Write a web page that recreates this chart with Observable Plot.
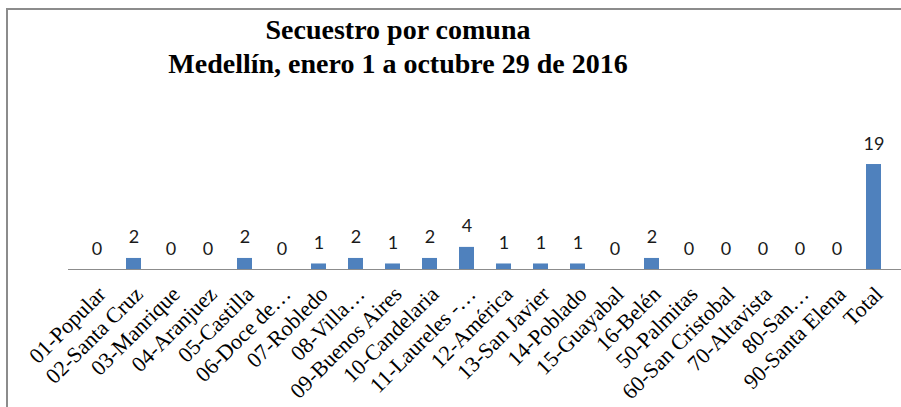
<!DOCTYPE html>
<html>
<head>
<meta charset="utf-8">
<script src="https://cdn.jsdelivr.net/npm/d3@7"></script>
<script src="https://cdn.jsdelivr.net/npm/@observablehq/plot@0.6"></script>
<style>
  html, body { margin: 0; padding: 0; background: #fff; }
  #wrap { position: relative; width: 901px; height: 407px; overflow: hidden; background: #fff; }
  #frame { position: absolute; left: 6px; top: 8px; width: 920px; height: 420px; border-left: 2px solid #8c8c8c; border-top: 2px solid #8c8c8c; box-sizing: border-box; }
  #title { position: absolute; left: 0; top: 13px; width: 796px; text-align: center;
    font-family: "Liberation Serif", "Times New Roman", serif; font-weight: bold; font-size: 28px; line-height: 34px; color: #000; }
  #chart { position: absolute; left: 0; top: 0; }
</style>
</head>
<body>
<div id="wrap">
  <div id="frame"></div>
  <div id="title">Secuestro por comuna<br>Medellín, enero 1 a octubre 29 de 2016</div>
  <div id="chart"></div>
</div>
<script>
const comunas = ["01-Popular","02-Santa Cruz","03-Manrique","04-Aranjuez","05-Castilla","06-Doce de…","07-Robledo","08-Villa…","09-Buenos Aires","10-Candelaria","11-Laureles -…","12-América","13-San Javier","14-Poblado","15-Guayabal","16-Belén","50-Palmitas","60-San Cristobal","70-Altavista","80-San…","90-Santa Elena","Total"];
const secuestros = [0,2,0,0,2,0,1,2,1,2,4,1,1,1,0,2,0,0,0,0,0,19];

const data = comunas.map((c, i) => ({comuna: c, valor: secuestros[i]}));

const chart = Plot.plot({
  width: 901,
  height: 407,
  marginLeft: 68,
  marginRight: 0,
  marginTop: 0,
  marginBottom: 0,
  x: {domain: comunas, range: [68, 901], paddingInner: 0.6, paddingOuter: 0.3, align: 0.5, axis: null},
  y: {domain: [0, 20], range: [269, 158.5], axis: null},
  style: {background: "transparent", overflow: "visible"},
  marks: [
    Plot.barY(data, {x: "comuna", y: "valor", fill: "#4F81BD"}),
    Plot.ruleY([0], {stroke: "#8c8c8c", strokeWidth: 1.2}),
    Plot.text(data, {x: "comuna", y: "valor", text: d => String(d.valor), lineAnchor: "bottom", dy: -15,
      fontFamily: "Lato, 'Open Sans', sans-serif", fontSize: 18, fill: "#1a1a1a"}),
    Plot.text(comunas, {x: d => d, y: () => 0, text: d => d, rotate: -45, textAnchor: "end", lineAnchor: "top",
      dx: -1, dy: 15, fontFamily: "'Liberation Serif', 'Times New Roman', serif", fontSize: 22, fill: "#000"}),
  ]
});
document.getElementById("chart").appendChild(chart);
</script>
</body>
</html>
